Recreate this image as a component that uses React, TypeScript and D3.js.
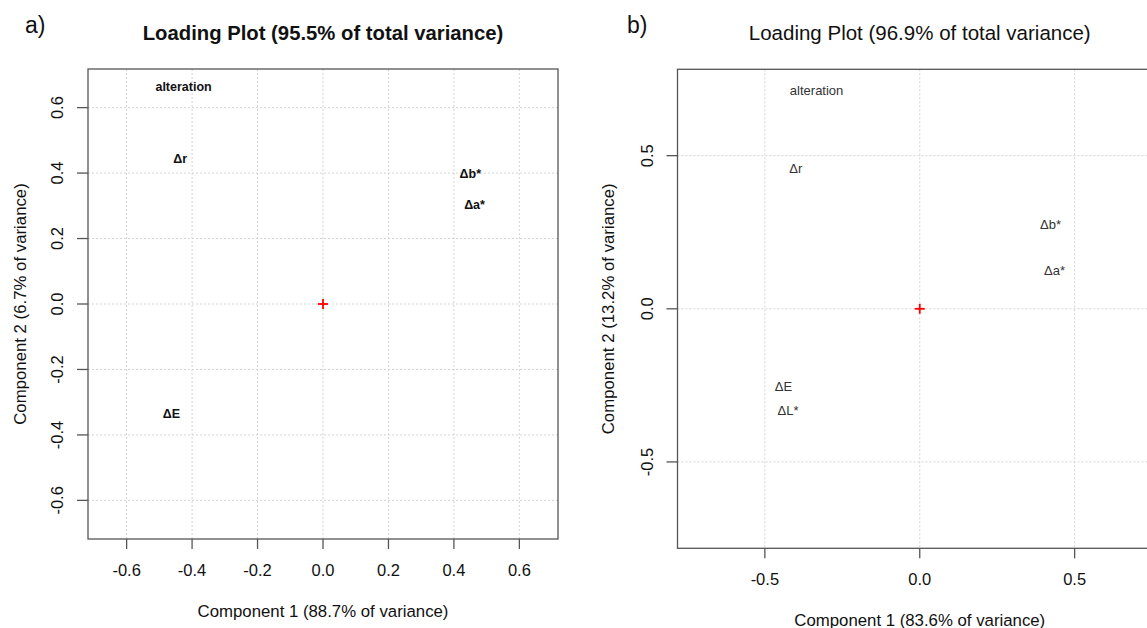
import React from "react";
import * as d3 from "d3";

// Panel a) loadings
const labelsA = ["alteration", "Δr", "Δb*", "Δa*", "ΔE"];
const xA = [-0.426, -0.436, 0.45, 0.463, -0.463];
const yA = [0.663, 0.442, 0.396, 0.302, -0.336];
const ticksA = [-0.6, -0.4, -0.2, 0.0, 0.2, 0.4, 0.6];

// Panel b) loadings
const labelsB = ["alteration", "Δr", "Δb*", "Δa*", "ΔE", "ΔL*"];
const xB = [-0.333, -0.4, 0.422, 0.435, -0.44, -0.425];
const yB = [0.714, 0.459, 0.274, 0.126, -0.253, -0.331];
const ticksB = [-0.5, 0.0, 0.5];

const FONT = "'Liberation Sans', Arial, Helvetica, sans-serif";

type PanelProps = {
  tag: string;
  title: string;
  xTitle: string;
  yTitle: string;
  labels: string[];
  xs: number[];
  ys: number[];
  ticks: number[];
  dom: number;
  box: { x0: number; x1: number; y0: number; y1: number };
  bold: boolean;
  tagPos: [number, number];
  tickLabelY: number;
  xTitleY: number;
  yTickX: number;
  yTitleX: number;
  labelSize: number;
  titleSize: number;
};

function Panel(p: PanelProps) {
  const x = d3.scaleLinear().domain([-p.dom, p.dom]).range([p.box.x0, p.box.x1]);
  const y = d3.scaleLinear().domain([-p.dom, p.dom]).range([p.box.y1, p.box.y0]);
  const fmt = (v: number) => d3.format(".1f")(v).replace("−", "-");
  const cx = (p.box.x0 + p.box.x1) / 2;
  const cy = (p.box.y0 + p.box.y1) / 2;
  const weight = p.bold ? "bold" : "normal";
  return (
    <g fontFamily={FONT}>
      <text x={p.tagPos[0]} y={p.tagPos[1]} fontSize={23} fill="#111">{p.tag}</text>
      <text x={cx} y={40} textAnchor="middle" fontSize={p.titleSize} fontWeight={weight} fill="#111">
        {p.title}
      </text>
      {/* grid */}
      {p.ticks.map((t) => (
        <line key={"gx" + t} x1={x(t)} x2={x(t)} y1={p.box.y0} y2={p.box.y1}
          stroke="#d3d3d3" strokeWidth={1} strokeDasharray="2,2" />
      ))}
      {p.ticks.map((t) => (
        <line key={"gy" + t} x1={p.box.x0} x2={p.box.x1} y1={y(t)} y2={y(t)}
          stroke="#d3d3d3" strokeWidth={1} strokeDasharray="2,2" />
      ))}
      {/* box */}
      <rect x={p.box.x0} y={p.box.y0} width={p.box.x1 - p.box.x0} height={p.box.y1 - p.box.y0}
        fill="none" stroke="#555" strokeWidth={1.3} />
      {/* x ticks */}
      {p.ticks.map((t) => (
        <g key={"tx" + t}>
          <line x1={x(t)} x2={x(t)} y1={p.box.y1} y2={p.box.y1 + 10} stroke="#555" strokeWidth={1.3} />
          <text x={x(t)} y={p.tickLabelY} textAnchor="middle" dominantBaseline="central"
            fontSize={16.5} fill="#111">{fmt(t)}</text>
        </g>
      ))}
      {/* y ticks */}
      {p.ticks.map((t) => (
        <g key={"ty" + t}>
          <line x1={p.box.x0 - 11} x2={p.box.x0} y1={y(t)} y2={y(t)} stroke="#555" strokeWidth={1.3} />
          <text transform={`translate(${p.yTickX},${y(t)}) rotate(-90)`} textAnchor="middle"
            dominantBaseline="central" fontSize={16.5} fill="#111">{fmt(t)}</text>
        </g>
      ))}
      <text x={cx} y={p.xTitleY} textAnchor="middle" dominantBaseline="central" fontSize={16.8} fill="#111">
        {p.xTitle}
      </text>
      <text transform={`translate(${p.yTitleX},${cy}) rotate(-90)`} textAnchor="middle"
        dominantBaseline="central" fontSize={16.8} fill="#111">{p.yTitle}</text>
      {/* loadings */}
      {p.labels.map((l, i) => (
        <text key={l} x={x(p.xs[i])} y={y(p.ys[i])} textAnchor="middle" dominantBaseline="central"
          fontSize={p.labelSize} fontWeight={weight} fill={p.bold ? "#111" : "#333"}>{l}</text>
      ))}
      {/* origin marker */}
      <g stroke="red" strokeWidth={1.8}>
        <line x1={x(0) - 5} x2={x(0) + 5} y1={y(0)} y2={y(0)} />
        <line x1={x(0)} x2={x(0)} y1={y(0) - 5} y2={y(0) + 5} />
      </g>
    </g>
  );
}

export default function App() {
  return (
    <svg width={1147} height={628} style={{ position: "absolute", left: 0, top: 0, background: "#fff" }}>
      <rect x={0} y={0} width={1147} height={628} fill="#fff" />
      <Panel
        tag="a)"
        title="Loading Plot (95.5% of total variance)"
        xTitle="Component 1 (88.7% of variance)"
        yTitle="Component 2 (6.7% of variance)"
        labels={labelsA}
        xs={xA}
        ys={yA}
        ticks={ticksA}
        dom={0.718}
        box={{ x0: 88, x1: 558, y0: 69, y1: 539 }}
        bold={true}
        tagPos={[25, 33]}
        tickLabelY={570}
        xTitleY={611}
        yTickX={57}
        yTitleX={20}
        labelSize={12.5}
        titleSize={20.3}
      />
      <Panel
        tag="b)"
        title="Loading Plot (96.9% of total variance)"
        xTitle="Component 1 (83.6% of variance)"
        yTitle="Component 2 (13.2% of variance)"
        labels={labelsB}
        xs={xB}
        ys={yB}
        ticks={ticksB}
        dom={0.782}
        box={{ x0: 677.5, x1: 1162, y0: 69.3, y1: 548.3 }}
        bold={false}
        tagPos={[627, 33]}
        tickLabelY={579}
        xTitleY={620}
        yTickX={647}
        yTitleX={608}
        labelSize={13}
        titleSize={20.5}
      />
    </svg>
  );
}
